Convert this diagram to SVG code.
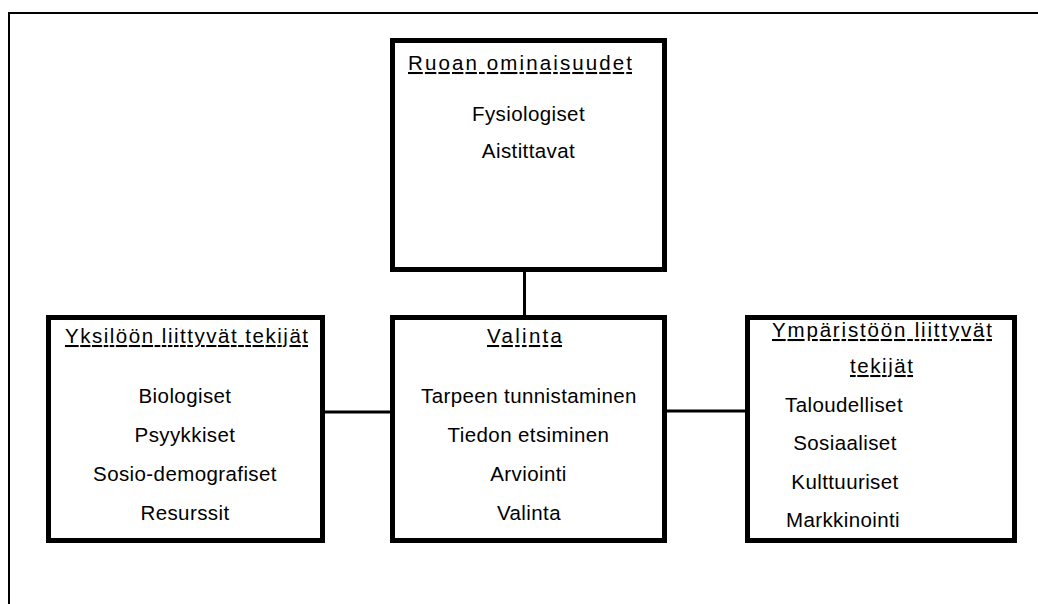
<svg xmlns="http://www.w3.org/2000/svg" width="1038" height="604" viewBox="0 0 1038 604">
<style>
.box{fill:#fff;stroke:#000;stroke-width:5}
.con{stroke:#000;stroke-width:3;fill:none}
.frame{stroke:#000;stroke-width:2;fill:none}
text{font-family:"Liberation Sans",Arial,sans-serif;font-size:20.5px;letter-spacing:0.4px;fill:#000;text-anchor:middle}
.t{text-decoration:underline;letter-spacing:0}
</style>
<rect width="1038" height="604" fill="#fff"/>
<g id="frame">
<line class="frame" x1="8" y1="13" x2="1038" y2="13"/>
<line class="frame" x1="9" y1="12" x2="9" y2="604"/>
</g>
<g id="connectors">
<line class="con" x1="524.5" y1="272" x2="524.5" y2="316"/>
<line class="con" x1="324" y1="412" x2="391" y2="412"/>
<line class="con" x1="666" y1="411" x2="746" y2="411"/>
</g>
<g id="ruoan">
<rect class="box" x="392.5" y="40.5" width="272" height="229"/>
<text class="t" x="520" y="70" textLength="224" lengthAdjust="spacing">Ruoan ominaisuudet</text>
<text x="528.5" y="121">Fysiologiset</text>
<text x="528.5" y="158">Aistittavat</text>
</g>
<g id="yksilo">
<rect class="box" x="48.5" y="317.5" width="274" height="223"/>
<text class="t" x="186.5" y="343" textLength="243" lengthAdjust="spacing">Yksilöön liittyvät tekijät</text>
<text x="185" y="403">Biologiset</text>
<text x="185" y="442">Psyykkiset</text>
<text x="185" y="481">Sosio-demografiset</text>
<text x="185" y="520">Resurssit</text>
</g>
<g id="valinta">
<rect class="box" x="392.5" y="317.5" width="272" height="223"/>
<text class="t" x="524.5" y="343" textLength="75" lengthAdjust="spacing">Valinta</text>
<text x="529" y="403">Tarpeen tunnistaminen</text>
<text x="528.5" y="442">Tiedon etsiminen</text>
<text x="528.5" y="481">Arviointi</text>
<text x="529" y="520">Valinta</text>
</g>
<g id="ymparisto">
<rect class="box" x="747.5" y="317.5" width="267" height="223"/>
<text class="t" x="882" y="337" textLength="220" lengthAdjust="spacing">Ympäristöön liittyvät</text>
<text class="t" x="881.5" y="373" textLength="63" lengthAdjust="spacing">tekijät</text>
<text x="844" y="412">Taloudelliset</text>
<text x="845" y="450">Sosiaaliset</text>
<text x="845" y="489">Kulttuuriset</text>
<text x="843" y="527">Markkinointi</text>
</g>
</svg>
